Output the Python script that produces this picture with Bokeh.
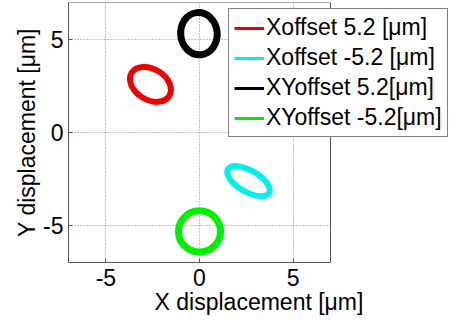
from bokeh.plotting import figure
from bokeh.models import Legend, LegendItem, BoxAnnotation
from bokeh.embed import file_html
from bokeh.resources import INLINE

# Series (orbit loops): centre, full axes and tilt
labels = ["Xoffset 5.2 [\u03bcm]", "Xoffset -5.2 [\u03bcm]",
          "XYoffset 5.2[\u03bcm]", "XYoffset -5.2[\u03bcm]"]
colors = ["#EE0000", "#00F0F0", "#000000", "#00EE00"]
center_x = [-2.62, 2.62, -0.03, 0.0]
center_y = [2.59, -2.62, 5.32, -5.33]
axis_w = [2.36, 2.54, 1.95, 2.25]
axis_h = [1.66, 1.16, 2.28, 2.22]
tilt = [-0.55, -0.52, 0.1, 0.0]
ring_width = [6, 6, 7, 7]

x_ticks = [-5, 0, 5]
y_ticks = [-5, 0, 5]
tick_labels = ["-5", "0", "5"]
axis_lo, axis_hi = -7, 7

FONT = "Liberation Sans"

# plot box is 262 px wide for 14 units; frame is widened so the legend can overhang it
box_px = 262
frame_px = 381
x_end = axis_lo + (axis_hi - axis_lo) * frame_px / box_px

p = figure(frame_width=frame_px, frame_height=260, x_range=(axis_lo, x_end),
           y_range=(axis_lo, axis_hi),
           output_backend="svg", toolbar_location=None,
           min_border_left=68, min_border_right=0, min_border_top=2,
           min_border_bottom=40)
p.outline_line_color = None

items = []
for i in range(len(labels)):
    p.ellipse(x=[center_x[i]], y=[center_y[i]], width=[axis_w[i]], height=[axis_h[i]],
              angle=[tilt[i]], fill_color=None, line_color=colors[i],
              line_width=ring_width[i])
    r = p.line(x=[center_x[i]], y=[center_y[i]], line_color=colors[i], line_width=3)
    items.append(LegendItem(label=labels[i], renderers=[r]))

# white area right of the axes box, then the axes box outline
p.add_layout(BoxAnnotation(left=axis_hi, fill_color="white", fill_alpha=1.0,
                           line_color=None, level="annotation"))
p.add_layout(BoxAnnotation(left=axis_lo, right=axis_hi, bottom=axis_lo, top=axis_hi,
                           fill_color=None, fill_alpha=0, line_color="#555555",
                           line_width=1, line_alpha=1.0, level="annotation"))

legend = Legend(items=items, location=(160, 125))
legend.label_text_font = FONT
legend.label_text_font_size = "23px"
legend.label_text_color = "black"
legend.glyph_width = 30
legend.glyph_height = 24
legend.label_height = 24
legend.label_standoff = 2
legend.spacing = 3
legend.padding = 5
legend.margin = 0
legend.border_line_color = "black"
legend.border_line_width = 1
legend.background_fill_color = "white"
legend.background_fill_alpha = 1.0
p.add_layout(legend)

p.xaxis.ticker = x_ticks
p.yaxis.ticker = y_ticks
p.xaxis.major_label_overrides = dict(zip(x_ticks, tick_labels))
p.yaxis.major_label_overrides = dict(zip(y_ticks, tick_labels))
p.xaxis.bounds = (axis_lo, axis_hi)
p.xaxis.axis_label = "X displacement [\u03bcm]"
p.yaxis.axis_label = "Y displacement [\u03bcm]"
for ax in (p.xaxis, p.yaxis):
    ax.major_label_text_font = FONT
    ax.major_label_text_font_size = "23px"
    ax.major_label_text_color = "black"
    ax.axis_label_text_font = FONT
    ax.axis_label_text_font_size = "23px"
    ax.axis_label_text_font_style = "normal"
    ax.axis_label_text_color = "black"
    ax.major_tick_in = 4
    ax.major_tick_out = 0
    ax.minor_tick_in = 0
    ax.minor_tick_out = 0
    ax.axis_line_color = "#555555"
    ax.major_tick_line_color = "#555555"
p.xaxis.major_label_standoff = 6
p.xaxis.axis_label_standoff = 0
p.yaxis.major_label_standoff = 5
p.yaxis.axis_label_standoff = 0

p.grid.grid_line_color = "#888888"
p.grid.grid_line_dash = "1 2"
p.grid.grid_line_width = 1
p.background_fill_color = "white"

open("out.html", "w").write(file_html(p, INLINE))
